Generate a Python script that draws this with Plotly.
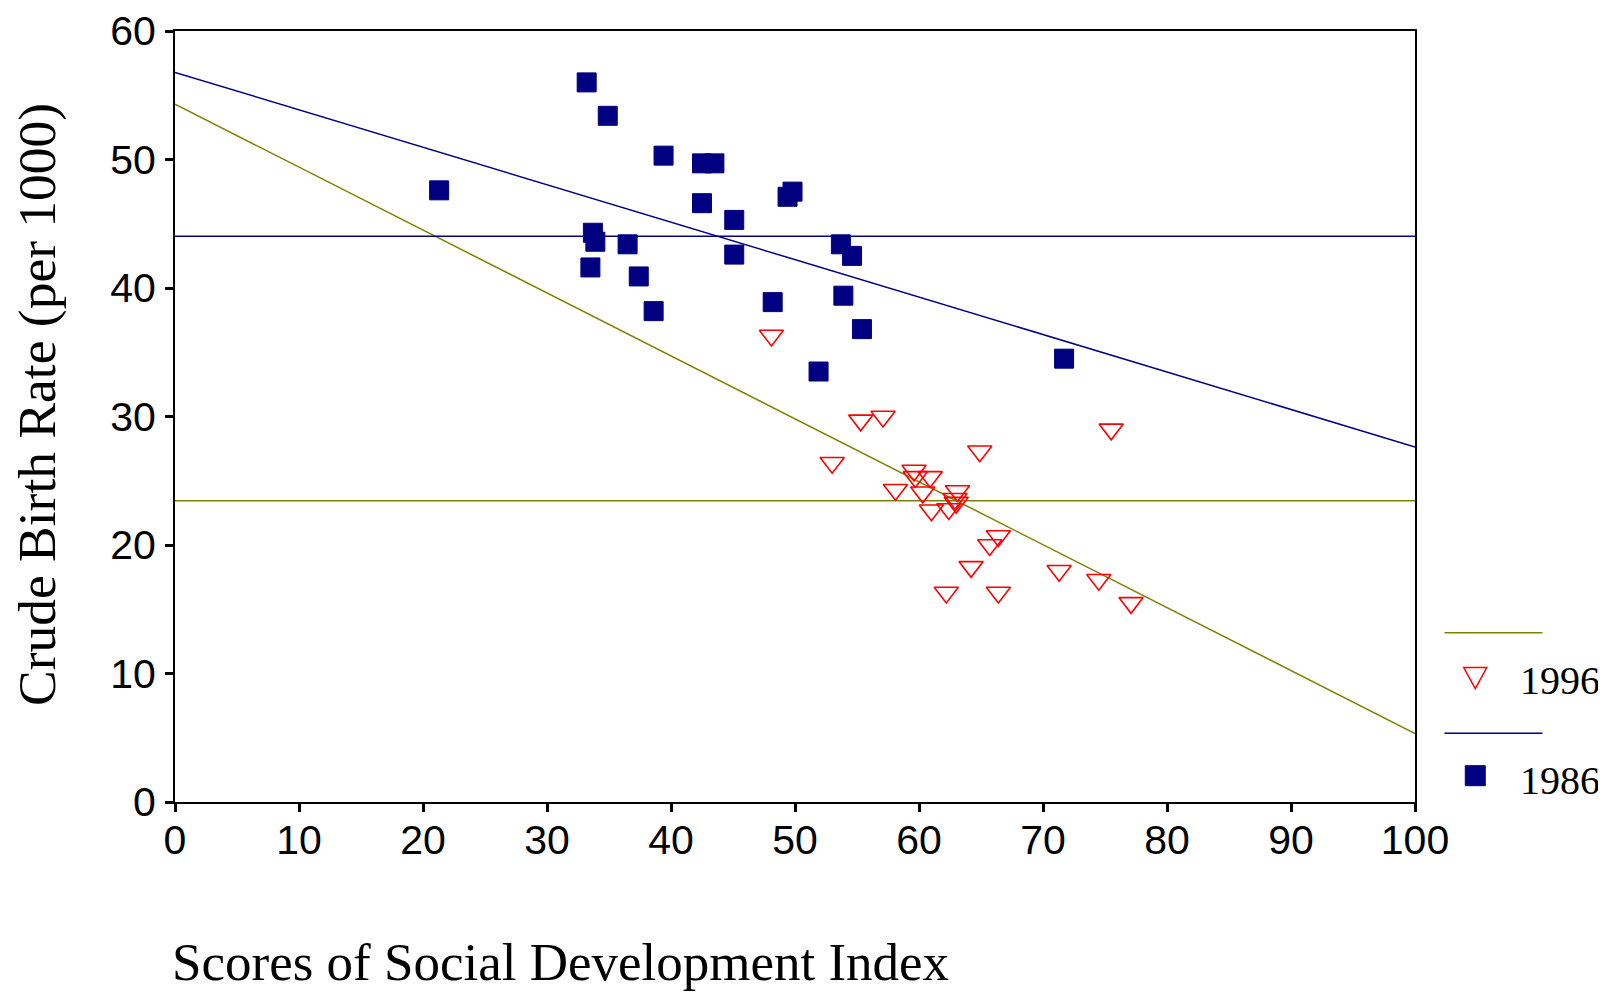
import numpy as np
import plotly.graph_objects as go

# ---------------- data ----------------
sdi_1986 = [33.2, 34.9, 39.4, 42.5, 43.5, 21.3, 42.5, 49.4, 49.8, 45.1, 33.7, 33.9,
            36.5, 33.5, 37.4, 38.6, 45.1, 53.7, 54.6, 48.2, 53.9, 55.4, 51.9, 71.7]
cbr_1986 = [56.0, 53.4, 50.3, 49.7, 49.7, 47.6, 46.6, 47.1, 47.5, 45.3, 44.3, 43.6,
            43.4, 41.6, 40.9, 38.2, 42.6, 43.4, 42.5, 38.9, 39.4, 36.8, 33.5, 34.5]

sdi_1996 = [48.1, 55.3, 57.1, 75.5, 53.0, 64.9, 59.6, 60.9, 59.7, 58.1, 60.3, 63.1,
            62.9, 63.0, 61.0, 62.4, 66.4, 65.7, 64.2, 62.2, 66.4, 71.3, 74.5, 77.1]
cbr_1996 = [36.3, 29.7, 30.0, 29.0, 26.4, 27.3, 25.8, 25.3, 25.3, 24.3, 24.1, 24.2,
            23.6, 23.3, 22.7, 22.8, 20.7, 20.0, 18.3, 16.3, 16.3, 18.0, 17.3, 15.5]

x_ticks = list(range(0, 101, 10))
y_ticks = list(range(0, 61, 10))
x_range = [0, 100]
y_range = [0, 60]

series_names = ["1996", "1986"]
x_title = "Scores of Social Development Index"
y_title = "Crude Birth Rate (per 1000)"

# ---------------- styling ----------------
NAVY = "#000080"
OLIVE = "#808000"
RED = "#FF0000"
SANS = "Liberation Sans, Arial, sans-serif"
SERIF = "Liberation Serif, Times New Roman, serif"

PAGE_W, PAGE_H = 1606, 995
BODY_OFF = 8                      # default page body margin
FW, FH = PAGE_W - BODY_OFF, PAGE_H - BODY_OFF
# plot area in page pixels
P_LEFT, P_RIGHT, P_TOP, P_BOTTOM = 175, 1415.5, 31, 802
ML = P_LEFT - BODY_OFF
MT = P_TOP - BODY_OFF
MR = PAGE_W - P_RIGHT
MB = PAGE_H - P_BOTTOM
PW, PH = P_RIGHT - P_LEFT, P_BOTTOM - P_TOP


def px2x(px):
    return (px - P_LEFT) / PW


def py2y(py):
    return (P_BOTTOM - py) / PH


fig = go.Figure()

# regression lines and mean lines computed from the data
xr = np.array(x_range, dtype=float)
for sdi, cbr, col in [(sdi_1996, cbr_1996, OLIVE), (sdi_1986, cbr_1986, NAVY)]:
    slope, icpt = np.polyfit(np.array(sdi), np.array(cbr), 1)
    fig.add_trace(go.Scatter(x=xr, y=icpt + slope * xr, mode="lines",
                             line=dict(color=col, width=1.5), showlegend=False,
                             hoverinfo="skip"))
    m = float(np.mean(cbr))
    fig.add_trace(go.Scatter(x=xr, y=[m, m], mode="lines",
                             line=dict(color=col, width=1.5), showlegend=False,
                             hoverinfo="skip"))

fig.add_trace(go.Scatter(x=sdi_1986, y=cbr_1986, mode="markers", name=series_names[1],
                         marker=dict(symbol="square", size=19, color=NAVY,
                                     line=dict(color=NAVY, width=1)),
                         showlegend=False, cliponaxis=False))
fig.add_trace(go.Scatter(x=sdi_1996, y=cbr_1996, mode="markers", name=series_names[0],
                         marker=dict(symbol="triangle-down-open", size=21, color=RED,
                                     line=dict(color=RED, width=1.6)),
                         showlegend=False, cliponaxis=False))

axis_common = dict(showgrid=False, zeroline=False, showline=True, linewidth=2,
                   linecolor="black", mirror=True, ticks="outside", ticklen=8,
                   tickwidth=3, tickcolor="black", automargin=False,
                   tickfont=dict(family=SANS, size=41, color="black"))

fig.update_xaxes(range=x_range, tickvals=x_ticks, ticklabelstandoff=-7, **axis_common)
fig.update_yaxes(range=y_range, tickvals=y_ticks, ticklabelstandoff=1, **axis_common)

# ---------------- manual legend ----------------
shapes = [
    dict(type="line", xref="paper", yref="paper", x0=px2x(1445), x1=px2x(1543),
         y0=py2y(632.7), y1=py2y(632.7), line=dict(color=OLIVE, width=1.5)),
    dict(type="path", xref="paper", yref="paper", xsizemode="pixel", ysizemode="pixel",
         xanchor=px2x(1475.8), yanchor=py2y(674.6),
         path="M-11.5,7 L11.5,7 L0,-14 Z", line=dict(color=RED, width=1.5),
         fillcolor="rgba(0,0,0,0)"),
    dict(type="line", xref="paper", yref="paper", x0=px2x(1445), x1=px2x(1543),
         y0=py2y(733.3), y1=py2y(733.3), line=dict(color=NAVY, width=1.5)),
    dict(type="rect", xref="paper", yref="paper", xsizemode="pixel", ysizemode="pixel",
         xanchor=px2x(1475.8), yanchor=py2y(775.7), x0=-10, x1=10, y0=-10, y1=10,
         line=dict(color=NAVY, width=1), fillcolor=NAVY),
]

annotations = [
    dict(text=series_names[0], xref="paper", yref="paper", x=px2x(1519), y=py2y(680),
         xanchor="left", yanchor="middle", showarrow=False,
         font=dict(family=SERIF, size=40, color="black")),
    dict(text=series_names[1], xref="paper", yref="paper", x=px2x(1519), y=py2y(780),
         xanchor="left", yanchor="middle", showarrow=False,
         font=dict(family=SERIF, size=40, color="black")),
    dict(text=x_title, xref="paper", yref="paper", x=px2x(170), y=py2y(993),
         xanchor="left", yanchor="bottom", showarrow=False,
         font=dict(family=SERIF, size=53, color="black")),
    dict(text=y_title, xref="paper", yref="paper", x=px2x(37), y=py2y(405),
         xanchor="center", yanchor="middle", textangle=-90, showarrow=False,
         font=dict(family=SERIF, size=53.5, color="black")),
]

fig.update_layout(width=FW, height=FH, margin=dict(l=ML, r=MR, t=MT, b=MB),
                  paper_bgcolor="white", plot_bgcolor="white",
                  shapes=shapes, annotations=annotations, showlegend=False)

fig.write_html("out.html")
